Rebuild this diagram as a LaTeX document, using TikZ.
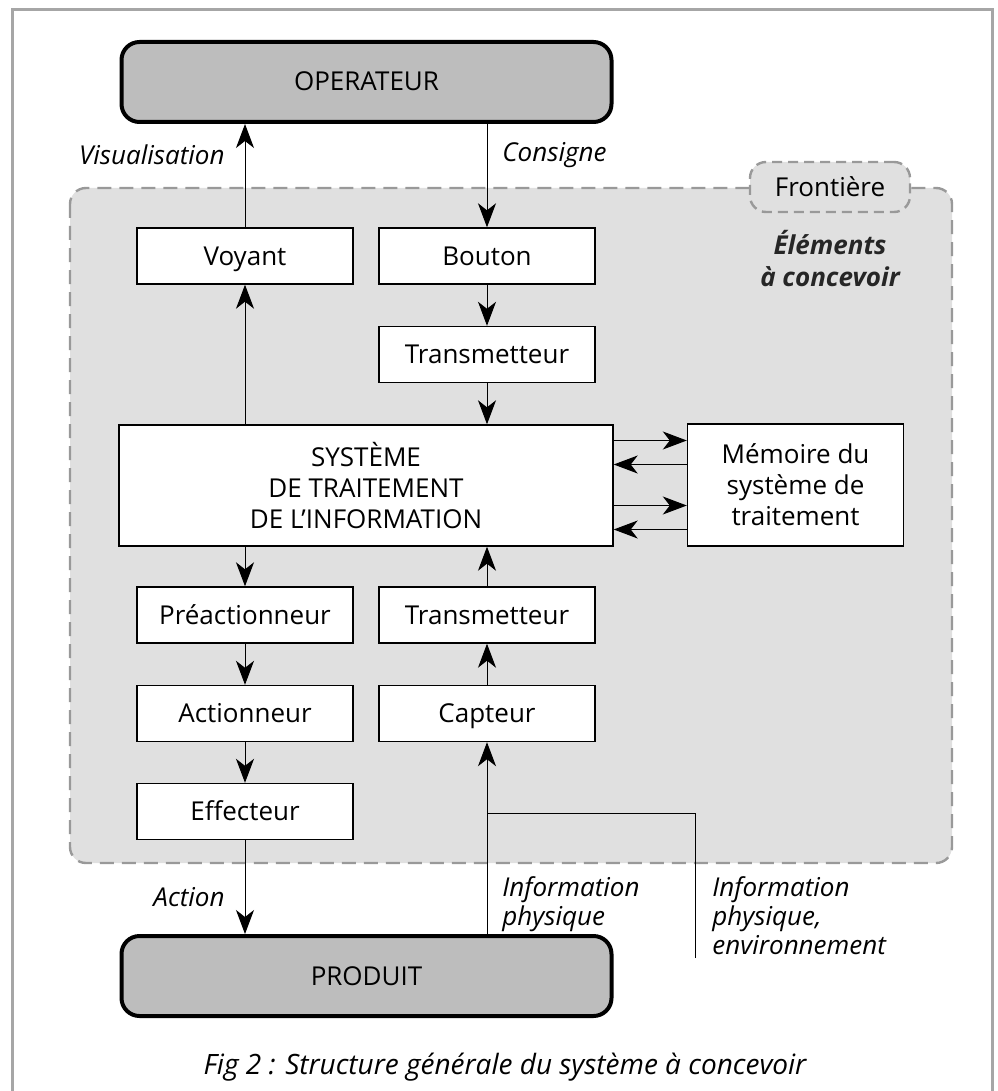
\documentclass[tikz,border=0pt]{standalone}
\usepackage{fontspec}
\setmainfont{Open Sans}
\usetikzlibrary{arrows.meta, positioning}
\newcommand\Bxfont{\fontsize{13pt}{15.5pt}\selectfont}
\newcommand\Lbfont{\fontsize{13pt}{14.5pt}\selectfont\itshape}
\definecolor{zone}{gray}{0.88}
\definecolor{ext}{gray}{0.74}
\tikzset{
  >={Stealth[length=12pt, width=9pt, inset=3.5pt]},
  bloc/.style={draw, fill=white, line width=0.7pt, minimum width=108pt, minimum height=28pt, inner sep=0pt, align=center, font=\Bxfont},
  bloc1/.style={bloc, text height=10.5pt, text depth=1.5pt},
  extbox/.style={draw, fill=ext, line width=2pt, rounded corners=9pt, minimum width=245pt, minimum height=40pt, inner sep=0pt, font=\Bxfont, text height=10.5pt, text depth=1.5pt},
  lien/.style={line width=0.5pt},
  lbl/.style={inner sep=0pt, align=left, font=\Lbfont},
}

\begin{document}
\begin{tikzpicture}[x=0.5pt, y=-0.5pt]
\useasboundingbox (0,0) rectangle (997,1091);
\draw[gray!70, line width=1.5pt] (12,1091) |- (992,10) -- (992,1091);
\draw[gray!80, fill=zone, line width=1.2pt, dash pattern=on 7pt off 4pt, rounded corners=8pt] (70,188) rectangle (952,863);

\node[extbox] (ope) at (366.5,82) {OPERATEUR};
\node[extbox] (pro) at (366.5,976) {PRODUIT};

\node[bloc1] (voy) at (245,256) {Voyant};
\node[bloc1] (bou) at (487,256) {Bouton};
\node[bloc1] (tr1) at (487,354.5) {Transmetteur};
\node[bloc, minimum width=247pt, minimum height=60.5pt] (sys) at (366,485.5) {SYSTÈME\\DE TRAITEMENT\\DE L'INFORMATION};
\node[bloc, minimum height=61pt] (mem) at (795.5,485) {Mémoire du\\système de\\traitement};
\node[bloc1] (pre) at (245,615) {Préactionneur};
\node[bloc1] (act) at (245,713.5) {Actionneur};
\node[bloc1] (eff) at (245,811.5) {Effecteur};
\node[bloc1] (tr2) at (487,615) {Transmetteur};
\node[bloc1] (cap) at (487,713.5) {Capteur};

\node[draw, gray!80, text=black, fill=zone, line width=1.2pt, dash pattern=on 5pt off 3pt, rounded corners=8pt, minimum width=80pt, minimum height=25pt, font=\Bxfont] (fro) at (830,187) {Frontière};
\node[align=center, font=\fontsize{13pt}{16pt}\selectfont\bfseries\itshape, text=black!85] (elt) at (830,259) {Éléments\\à concevoir};

\draw[lien, ->] (voy) -- (voy |- ope.south);
\draw[lien, ->] (bou |- ope.south) -- (bou);
\draw[lien, ->] (sys.north -| voy) -- (voy);
\draw[lien, ->] (bou) -- (tr1);
\draw[lien, ->] (tr1) -- (sys.north -| tr1);
\draw[lien, ->] (sys.south -| pre) -- (pre);
\draw[lien, ->] (pre) -- (act);
\draw[lien, ->] (act) -- (eff);
\draw[lien, ->] (eff) -- (eff |- pro.north);
\draw[lien, ->] (cap |- pro.north) -- (cap);
\draw[lien, ->] (cap) -- (tr2);
\draw[lien, ->] (tr2) -- (sys.south -| tr2);
\foreach \dy in {22.5pt, -10pt}
  \draw[lien, ->] ([yshift=\dy]sys.east) -- ([yshift=\dy]sys.east -| mem.west);
\foreach \dy in {10.5pt, -22pt}
  \draw[lien, ->] ([yshift=\dy]sys.east -| mem.west) -- ([yshift=\dy]sys.east);

\coordinate (jn) at (487,813);
\coordinate (env) at (695,958);
\draw[lien] (env) |- (jn);

\node[lbl, anchor=east] (vis) at (225,155) {Visualisation};
\node[lbl, anchor=west] (cons) at (502,155) {Consigne};
\node[lbl, anchor=east] (acti) at (225,897) {Action};
\node[lbl, anchor=north west] (iph) at (502,876) {Information\\physique};
\node[lbl, anchor=north west] (ienv) at (712,876) {Information\\physique,\\environnement};

\node[font=\fontsize{14pt}{15pt}\selectfont\itshape] (cap2) at (505,1067) {Fig 2 : Structure générale du système à concevoir};
\end{tikzpicture}
\end{document}
